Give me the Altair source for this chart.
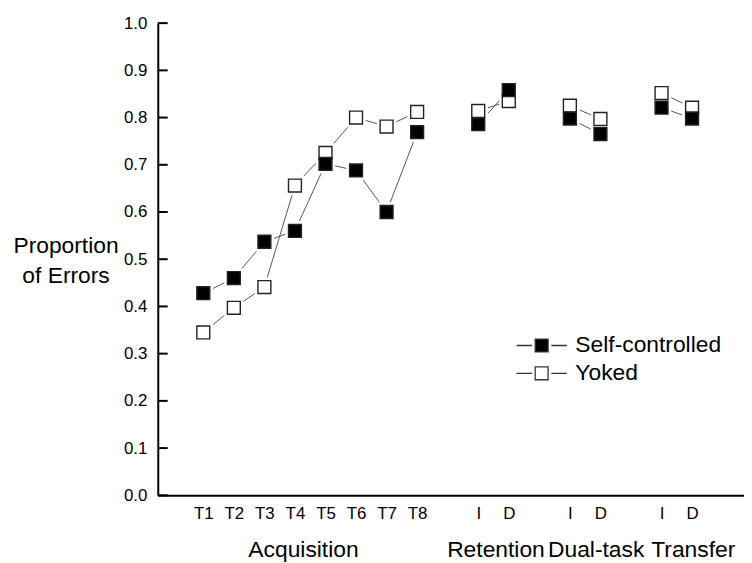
import altair as alt
import pandas as pd

# ---- data ----
conditions = ["T1", "T2", "T3", "T4", "T5", "T6", "T7", "T8", "I", "D", "I", "D", "I", "D"]
phases = ["Acquisition"] * 8 + ["Retention"] * 2 + ["Dual-task"] * 2 + ["Transfer"] * 2
slots = [1, 2, 3, 4, 5, 6, 7, 8, 10, 11, 13, 14, 16, 17]
self_controlled = [0.428, 0.460, 0.537, 0.560, 0.702, 0.688, 0.600, 0.769,
                   0.786, 0.858, 0.798, 0.765, 0.821, 0.798]
yoked = [0.345, 0.397, 0.441, 0.656, 0.725, 0.800, 0.781, 0.812,
         0.814, 0.835, 0.825, 0.797, 0.852, 0.821]
phase_names = ["Acquisition", "Retention", "Dual-task", "Transfer"]
phase_label_slots = [4.28, 10.58, 13.86, 17.04]
y_ticks = [round(i * 0.1, 1) for i in range(11)]
series_order = ["Self-controlled", "Yoked"]

rows = []
for series, vals in (("Yoked", yoked), ("Self-controlled", self_controlled)):
    for s, c, p, v in zip(slots, conditions, phases, vals):
        rows.append(dict(series=series, slot=s, cond=c, phase=p, value=v))
df = pd.DataFrame(rows)

label_arr = [""] * 19
for s, c in zip(slots, conditions):
    label_arr[s] = c
label_expr = "[" + ",".join("'%s'" % l for l in label_arr) + "][datum.value]"

FONT = "Liberation Sans"
W, H = 591, 476

xs = alt.Scale(domain=[-0.49, 18.7], nice=False, zero=False)
ys = alt.Scale(domain=[0, 1], nice=False)

x_axis = alt.Axis(values=slots, labelExpr=label_expr, ticks=False, grid=False,
                  domainColor="black", domainWidth=2, labelFontSize=17,
                  labelPadding=10, labelColor="black", labelFont=FONT, title="")
y_axis = alt.Axis(values=y_ticks, format=".1f", ticks=False, grid=False,
                  domainColor="black", domainWidth=2, labelFontSize=17,
                  labelPadding=11, labelColor="black", labelFont=FONT,
                  title=["Proportion", "of Errors"], titleAngle=0,
                  titleAlign="center", titleBaseline="alphabetic",
                  titleX=-93, titleY=231, titleFontSize=23, titleFontWeight="normal",
                  titleLineHeight=30, titleColor="black", titleFont=FONT)

X = alt.X("slot:Q", scale=xs, axis=x_axis)
Y = alt.Y("value:Q", scale=ys, axis=y_axis)

lines = alt.Chart(df).mark_line(color="#555555", strokeWidth=1).encode(
    x=X, y=Y, detail=[alt.Detail("series:N"), alt.Detail("phase:N")]
)
halos = alt.Chart(df).mark_square(color="white", size=380, opacity=1).encode(x=X, y=Y)

legend_path = "M-1.95,0H-0.75M-0.5,-0.5H0.5V0.5H-0.5ZM0.75,0H1.95"
points = alt.Chart(df).mark_square(size=169, stroke="#222222", strokeWidth=1.4, opacity=1).encode(
    x=X, y=Y,
    fill=alt.Fill("series:N",
                  scale=alt.Scale(domain=series_order, range=["black", "white"]),
                  legend=alt.Legend(orient="none", legendX=373, legendY=311, title=None,
                                    symbolType=legend_path, symbolSize=676,
                                    symbolStrokeColor="#333333", symbolStrokeWidth=1.3,
                                    labelFontSize=23, labelFont=FONT, labelColor="black",
                                    labelOffset=20, rowPadding=2, padding=0))
)

tick_df = pd.DataFrame({"value": y_ticks})
tick_rules = alt.Chart(tick_df).mark_rule(color="black", strokeWidth=2).encode(
    y=Y, x=alt.value(0), x2=alt.value(10),
)

label_df = pd.DataFrame({"phase": phase_names, "slot": phase_label_slots})
group_labels = alt.Chart(label_df).mark_text(
    fontSize=23, font=FONT, baseline="alphabetic", align="center", color="black"
).encode(
    x=X, y=alt.value(H + 62), text="phase:N",
)

chart = alt.layer(lines, halos, points, tick_rules, group_labels).properties(
    width=W, height=H,
    autosize=alt.AutoSizeParams(type="none"),
    padding={"left": 151, "top": 13, "right": 0, "bottom": 66},
).configure_view(stroke=None)

chart.save("out.html", embed_options={"renderer": "svg", "actions": False})
